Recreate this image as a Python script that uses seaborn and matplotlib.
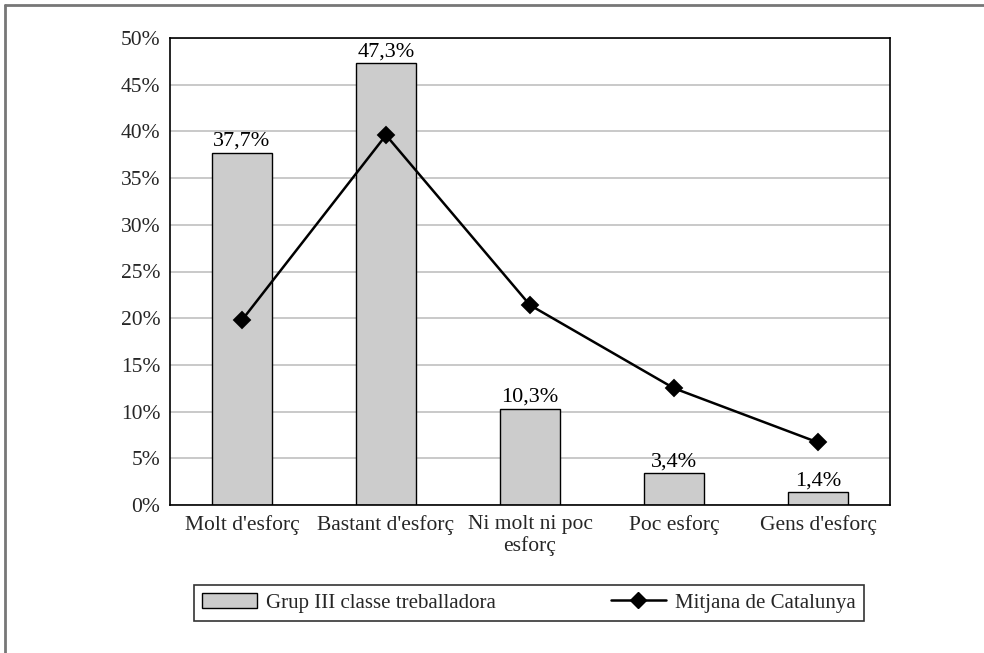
import matplotlib
matplotlib.use("Agg")
import matplotlib.pyplot as plt
from matplotlib.lines import Line2D
from matplotlib.ticker import FixedLocator
import seaborn as sns
import pandas as pd

categories = ["Molt d'esforç", "Bastant d'esforç", "Ni molt ni poc\nesforç", "Poc esforç", "Gens d'esforç"]
grup_iii = [37.7, 47.3, 10.3, 3.4, 1.4]
mitjana_catalunya = [19.8, 39.6, 21.4, 12.5, 6.7]
yticks = [0, 5, 10, 15, 20, 25, 30, 35, 40, 45, 50]

sns.set_theme(style="white")
plt.rcParams["font.family"] = ["Liberation Serif", "DejaVu Serif"]
plt.rcParams["font.size"] = 15.5

df = pd.DataFrame({"categoria": categories, "grup": grup_iii, "mitjana": mitjana_catalunya})

fig = plt.figure(figsize=(9.84, 6.53), dpi=100)
ax = fig.add_axes([170 / 984, 1 - 505 / 653, 720 / 984, 467 / 653])

sns.barplot(data=df, x="categoria", y="grup", color="#cccccc", edgecolor="black",
            linewidth=1.0, width=0.41, saturation=1, ax=ax, zorder=2)
sns.pointplot(data=df, x="categoria", y="mitjana", color="black", markers="D",
              markersize=8, linewidth=1.8, ax=ax, zorder=3)

for i, v in enumerate(grup_iii):
    ax.text(i, v + 0.2, f"{v:.1f}%".replace(".", ","), ha="center", va="bottom",
            fontsize=16, color="black")

ax.set_xlim(-0.5, len(categories) - 0.5)
ax.set_ylim(0, 50)
ax.set_yticks(yticks)
ax.set_yticklabels([f"{t}%" for t in yticks], fontsize=15.5)
ax.set_xticks(range(len(categories)))
ax.set_xticklabels(categories, fontsize=15.5, linespacing=1.15)
ax.xaxis.set_minor_locator(FixedLocator([i + 0.5 for i in range(-1, len(categories))]))
ax.tick_params(axis="x", which="major", length=0, pad=7)
ax.tick_params(axis="x", which="minor", length=6, direction="out", width=1, color="black")
ax.tick_params(axis="y", which="major", length=8, direction="inout", width=1, color="black", pad=3)
ax.set_xlabel("")
ax.set_ylabel("")
ax.yaxis.grid(True, color="#c0c0c0", linewidth=1.2, zorder=0)
ax.set_axisbelow(True)
for s in ax.spines.values():
    s.set_color("black")
    s.set_linewidth(1.2)

handles = [
    plt.Rectangle((0, 0), 1, 1, facecolor="#cccccc", edgecolor="black", linewidth=1.0),
    Line2D([0], [0], color="black", linewidth=1.8, marker="D", markersize=8),
]
leg = fig.legend(handles, ["Grup III classe treballadora", "Mitjana de Catalunya"],
                 loc="lower left", bbox_to_anchor=(194 / 984, 1 - 621 / 653, 670 / 984, 45 / 653),
                 mode="expand", ncol=2, fontsize=15, frameon=True, fancybox=False,
                 handlelength=2.6, handleheight=0.7, handletextpad=0.45, borderaxespad=0)
leg.get_frame().set_edgecolor("black")
leg.get_frame().set_linewidth(1.2)

fig.add_artist(Line2D([5 / 984, 5 / 984], [0, 1 - 5 / 653], color="#777777", linewidth=2))
fig.add_artist(Line2D([5 / 984, 1], [1 - 5 / 653, 1 - 5 / 653], color="#777777", linewidth=2))

fig.savefig("out.png", dpi=100, facecolor="white")
